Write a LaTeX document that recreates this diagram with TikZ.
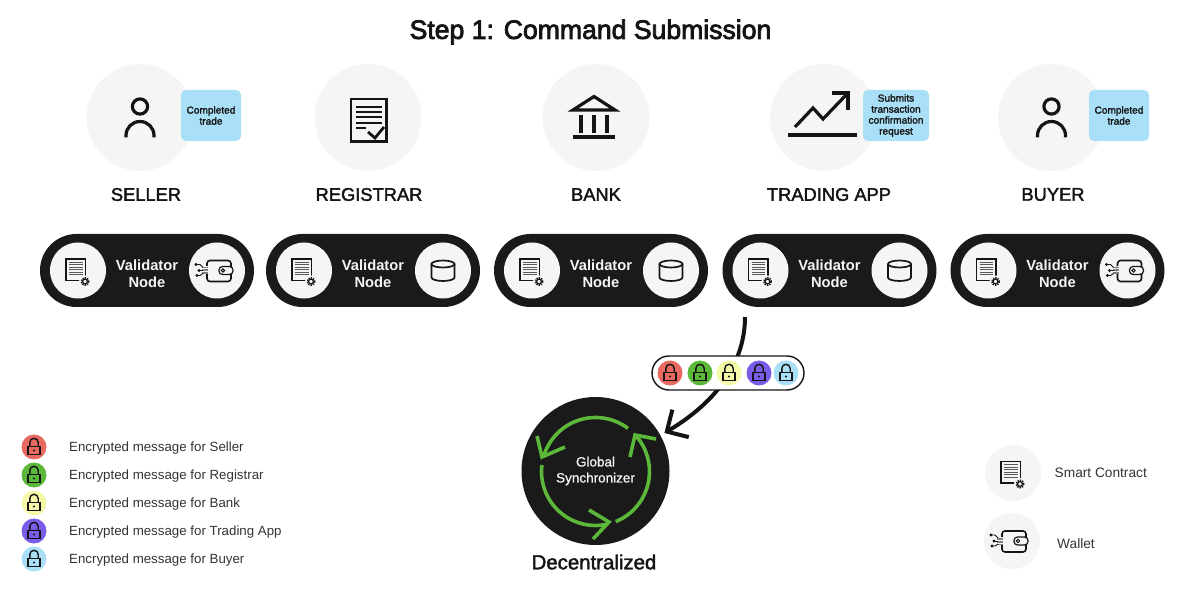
\documentclass[tikz,border=0pt]{standalone}
\usepackage{fontspec}
\setmainfont{Liberation Sans}
\newfontfamily\medf[FakeBold=2]{Liberation Sans}
\newfontfamily\semf[FakeBold=3]{Liberation Sans}
\newfontfamily\lightf[FakeBold=0.8]{Liberation Sans}
\usetikzlibrary{arrows.meta,calc}
\definecolor{ink}{HTML}{141414}
\definecolor{pale}{HTML}{F5F5F5}
\definecolor{skyb}{HTML}{A9DFF7}
\definecolor{lockred}{HTML}{E8695F}
\definecolor{lockgreen}{HTML}{5CB83A}
\definecolor{lockyellow}{HTML}{F5F9A8}
\definecolor{lockpurple}{HTML}{7A5CE8}
\definecolor{lockblue}{HTML}{A9DFF7}
\definecolor{pillblack}{HTML}{1A1A1A}
\definecolor{legendtext}{HTML}{333333}
\tikzset{
  x=1pt,y=-1pt,
  bigdisc/.style={circle,fill=pale,minimum size=107pt,inner sep=0pt},
  note/.style={rectangle,rounded corners=5pt,fill=skyb,text=ink,align=center,inner sep=0pt,minimum height=51pt,font=\fontsize{10.1}{11}\medf},
  role/.style={text=ink,font=\fontsize{18.3}{20}\medf,inner sep=0pt},
  pillnode/.style={rectangle,rounded corners=36.5pt,fill=pillblack,minimum width=214pt,minimum height=73pt,inner sep=0pt},
  pilltext/.style={text=pale,inner sep=0pt,align=center,font=\fontsize{14.7}{17}\selectfont\bfseries},
  smalldisc/.style={circle,fill=pale,minimum size=56pt,inner sep=0pt},
  lockdisc/.style={circle,minimum size=25pt,inner sep=0pt},
  legendlabel/.style={anchor=west,text=legendtext,inner sep=0pt,font=\fontsize{13.3}{14}\selectfont},
  keylabel/.style={anchor=west,text=legendtext,inner sep=0pt,font=\fontsize{13.7}{14}\selectfont},
  greenline/.style={draw=lockgreen,line width=3.6pt},
  icon/.style={draw=ink,line width=3.2pt},
  docgear/.pic={
    \draw[ink,line width=1.3pt] (-12,-11.5) rectangle (7.5,10);
    \foreach \yy in {-8.5,-6,-3.5,-1,1.5,4}{\draw[black!65,line width=0.9pt] (-9,\yy) -- (4.5,\yy);}
    \fill[pale] (7,11) circle (6);
    \draw[ink,line width=1.6pt,dash pattern=on 1.3pt off 1.1pt] (7,11) circle (3.7);
    \draw[ink,line width=1.2pt] (7,11) circle (2.4);
  },
  walleticon/.pic={
    \draw[ink,line width=1.6pt,rounded corners=3pt] (-10,-10) rectangle (14,11);
    \fill[pale] (-11,-4) rectangle (-9,4);
    \foreach \yy in {-3,-1.5,0,1.5,3}{\draw[black!50,line width=0.9pt] (-15,\yy) -- (-9,\yy);}
    \draw[ink,line width=0.9pt] (-21,-6) -- (-17,-6) -- (-14,-3);
    \draw[ink,line width=0.9pt] (-18,0) -- (-14,0);
    \draw[ink,line width=0.9pt] (-20,5) -- (-17,5) -- (-14,3);
    \foreach \pp in {(-21,-6),(-18,0),(-20,5)}{\fill[ink] \pp circle (1.7);}
    \draw[ink,fill=pale,line width=1.2pt,rounded corners=3.5pt] (2,-4) rectangle (16,4);
    \draw[ink,line width=1pt] (6,0) circle (1.7);
  },
  cylicon/.pic={
    \draw[ink,line width=1.7pt] (-11.5,-6.5) -- (-11.5,7) arc[start angle=180,end angle=0,x radius=11.5,y radius=3.5] -- (11.5,-6.5);
    \draw[ink,line width=1.7pt] (0,-6.5) ellipse[x radius=11.5,y radius=3.5];
  },
  padlock/.pic={
    \draw[ink,line width=1.4pt] (-6,-0.5) rectangle (6,7.5);
    \draw[ink,line width=1.4pt] (-4.2,-0.5) -- (-4.2,-4.5) arc[start angle=180,end angle=360,radius=4.2] -- (4.2,-0.5);
    \fill[ink] (0,3.5) circle (1.2);
  },
  person/.pic={
    \draw[icon] (0,-11) circle (7.6);
    \draw[icon] (-14,20) -- (-14,18) arc[start angle=180,end angle=360,radius=14] -- (14,20);
  }
}
\begin{document}
\begin{tikzpicture}
\useasboundingbox (0,0) rectangle (1200,593);

\node[text=ink,inner sep=0pt,font=\fontsize{26.6}{28}\semf] (title) at (590.5,32) {Step 1: Command Submission};

% top discs
\node[bigdisc] (d1) at (140,117.5) {};
\node[bigdisc] (d2) at (368,117.5) {};
\node[bigdisc] (d3) at (596,117.5) {};
\node[bigdisc] (d4) at (823.5,117.5) {};
\node[bigdisc] (d5) at (1051.5,117.5) {};

\pic at (d1) {person};
\pic at (d5) {person};

% registrar document
\draw[ink,line width=2.6pt] (351,99) rectangle (386.5,141.5);
\foreach \yy in {107,112,117,123}{\draw[ink,line width=1.4pt] (356,\yy) -- (382,\yy);}
\draw[ink,line width=1.4pt] (356,128) -- (366,128);
\draw[ink,line width=2.8pt,fill=pale] (368,132) -- (375,138) -- (384,127);

% bank
\draw[icon,line join=miter] (573,110) -- (594,96.5) -- (615,110) -- cycle;
\draw[ink,line width=4pt] (581,115) -- (581,133) (594,115) -- (594,133) (607,115) -- (607,133);
\draw[ink,line width=4pt] (573,137) -- (615,137);

% chart
\draw[icon] (788,135) -- (857,135);
\draw[icon] (795,127) -- (813,108) -- (823,119) -- (848,93);
\draw[icon] (832,93) -- (848,93) -- (848,110);

% notes
\node[note,minimum width=60pt] (n1) at (211,115.5) {\raisebox{-1pt}{\parbox{60pt}{\centering Completed\\trade}}};
\node[note,minimum width=66pt] (n4) at (896,115.5) {\raisebox{-1pt}{\parbox{66pt}{\centering Submits\\transaction\\confirmation\\request}}};
\node[note,minimum width=60pt] (n5) at (1119,115.5) {\raisebox{-1pt}{\parbox{60pt}{\centering Completed\\trade}}};

% role labels
\node[role] (r1) at (146,194.5) {SELLER};
\node[role] (r2) at (369,194.5) {REGISTRAR};
\node[role] (r3) at (596,194.5) {BANK};
\node[role] (r4) at (829,194.5) {TRADING APP};
\node[role] (r5) at (1053,194.5) {BUYER};

% validator pills
\node[pillnode] (v1) at (147,270.5) {};
\node[pillnode] (v2) at (373,270.5) {};
\node[pillnode] (v3) at (601,270.5) {};
\node[pillnode] (v4) at (829.5,270.5) {};
\node[pillnode] (v5) at (1057.5,270.5) {};
\node[pilltext] (vt1) at (147,274) {Validator\\Node};
\node[pilltext] (vt2) at (373,274) {Validator\\Node};
\node[pilltext] (vt3) at (601,274) {Validator\\Node};
\node[pilltext] (vt4) at (829.5,274) {Validator\\Node};
\node[pilltext] (vt5) at (1057.5,274) {Validator\\Node};

\node[smalldisc] (l1) at (78,270.5) {};
\node[smalldisc] (l2) at (304,270.5) {};
\node[smalldisc] (l3) at (532,270.5) {};
\node[smalldisc] (l4) at (760.5,270.5) {};
\node[smalldisc] (l5) at (988.5,270.5) {};
\node[smalldisc] (s1) at (217,270.5) {};
\node[smalldisc] (s2) at (443,270.5) {};
\node[smalldisc] (s3) at (671,270.5) {};
\node[smalldisc] (s4) at (899.5,270.5) {};
\node[smalldisc] (s5) at (1127.5,270.5) {};
\foreach \n in {l1,l2,l3,l4,l5}{\pic at (\n) {docgear};}
\foreach \n in {s2,s3,s4}{\pic at (\n) {cylicon};}
\foreach \n in {s1,s5}{\pic at (\n) {walleticon};}

% synchronizer
\node[circle,fill=pillblack,minimum size=148pt,inner sep=0pt,text=pale,align=center,font=\fontsize{13.5}{16}\lightf] (sync) at (595.5,471) {Global\\Synchronizer};
\draw[greenline] (595.5,471.5) ++(-53:54) arc[start angle=-53,end angle=-163,radius=54];
\draw[greenline] (537,436) -- (542,457) -- (565,447);
\draw[greenline] (595.5,471.5) ++(187:54) arc[start angle=187,end angle=77,radius=54];
\draw[greenline] (589,510) -- (609,522) -- (593,539);
\draw[greenline] (595.5,471.5) ++(68:54) arc[start angle=68,end angle=-41,radius=54];
\draw[greenline] (630,457) -- (635,435) -- (656,439);
\node[text=ink,inner sep=0pt,font=\fontsize{20.4}{22}\medf] (dec) at (594,562) {Decentralized};

% connector
\coordinate (flowstart) at (745,317);
\coordinate (flowend) at ($(sync.29)+(4,-2)$);
\draw[ink,line width=4pt,-{Straight Barb[length=16pt,width=32pt,line width=4pt]}] (flowstart) .. controls (745,352) and (728,395) .. (flowend);

% encrypted bundle
\node[rectangle,rounded corners=17pt,draw=ink,fill=white,line width=1.4pt,minimum width=152pt,minimum height=34pt,inner sep=0pt] (bundle) at (728,373) {};
\node[lockdisc,fill=lockred] (b1) at (670,373) {};
\node[lockdisc,fill=lockgreen] (b2) at (700,373) {};
\node[lockdisc,fill=lockyellow] (b3) at (729,373) {};
\node[lockdisc,fill=lockpurple] (b4) at (759,373) {};
\node[lockdisc,fill=lockblue] (b5) at (786,373) {};
\foreach \n in {b1,b2,b3,b4,b5}{\pic at (\n) {padlock};}

% legend left
\node[lockdisc,fill=lockred] (k1) at (34,447) {};
\node[lockdisc,fill=lockgreen] (k2) at (34,475) {};
\node[lockdisc,fill=lockyellow] (k3) at (34,503) {};
\node[lockdisc,fill=lockpurple] (k4) at (34,531) {};
\node[lockdisc,fill=lockblue] (k5) at (34,559) {};
\foreach \n in {k1,k2,k3,k4,k5}{\pic at (\n) {padlock};}
\node[legendlabel] (t1) at (69,448) {Encrypted message for Seller};
\node[legendlabel] (t2) at (69,476) {Encrypted message for Registrar};
\node[legendlabel] (t3) at (69,504) {Encrypted message for Bank};
\node[legendlabel] (t4) at (69,532) {Encrypted message for Trading App};
\node[legendlabel] (t5) at (69,560) {Encrypted message for Buyer};

% legend right
\node[smalldisc] (c1) at (1013,473) {};
\node[smalldisc] (c2) at (1012,541) {};
\pic at (c1) {docgear};
\pic at (c2) {walleticon};
\node[keylabel] (kk1) at (1054.5,472.5) {Smart Contract};
\node[keylabel] (kk2) at (1057,544) {Wallet};
\end{tikzpicture}
\end{document}
